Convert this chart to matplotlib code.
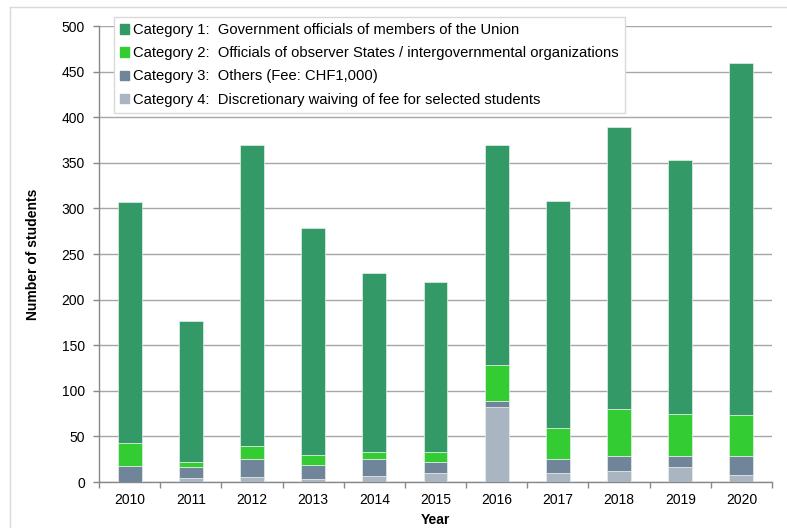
import numpy as np
import matplotlib.pyplot as plt
from matplotlib.lines import Line2D

plt.rcParams['font.family'] = ['Liberation Sans', 'DejaVu Sans']

years = ['2010', '2011', '2012', '2013', '2014', '2015', '2016', '2017', '2018', '2019', '2020']
cat1 = [264, 154, 331, 248, 196, 186, 241, 249, 309, 278, 386]
cat2 = [25, 6, 14, 11, 8, 11, 39, 34, 51, 46, 44]
cat3 = [18, 12, 19, 16, 18, 12, 7, 15, 17, 13, 21]
cat4 = [0, 4, 6, 3, 7, 10, 82, 10, 12, 16, 8]

labels = ['Category 1:  Government officials of members of the Union',
          'Category 2:  Officials of observer States / intergovernmental organizations',
          'Category 3:  Others (Fee: CHF1,000)',
          'Category 4:  Discretionary waiving of fee for selected students']
colors = ['#339966', '#33cc33', '#708599', '#a9b6c2']

fig = plt.figure(figsize=(7.87, 5.28), dpi=100)
ax = fig.add_axes([99 / 787, 1 - 482 / 528, 673 / 787, 456 / 528])

# light border of the chart area
fig.add_artist(Line2D([10 / 787, 10 / 787], [0, 1 - 7 / 528], color='#d9d9d9', lw=1))
fig.add_artist(Line2D([10 / 787, 1], [1 - 7 / 528, 1 - 7 / 528], color='#d9d9d9', lw=1))

x = np.arange(len(years))
bottom = np.zeros(len(years))
# stack from the bottom (cat4) up to cat1
series = [cat4, cat3, cat2, cat1]
cols = colors[::-1]
for vals, c in zip(series, cols):
    ax.bar(x, vals, width=0.39, bottom=bottom, color=c, edgecolor='#e6efe9', linewidth=0.5, zorder=3)
    bottom += np.array(vals)

ax.set_xlim(-0.5, len(years) - 0.5)
ax.set_ylim(0, 500)
ax.set_yticks(np.arange(0, 501, 50))
ax.set_xticks(x)
ax.set_xticklabels(years)
ax.set_xticks(np.arange(-0.5, len(years)), minor=True)
ax.tick_params(axis='x', which='major', length=0, labelsize=10, pad=8)
ax.tick_params(axis='x', which='minor', length=4, color='#888888', width=1)
ax.tick_params(axis='y', length=4, color='#888888', width=1, labelsize=10, pad=6)

ax.yaxis.grid(True, color='#a6a6a6', linewidth=1, zorder=0)
ax.set_axisbelow(True)
for s in ['top', 'right']:
    ax.spines[s].set_visible(False)
for s in ['left', 'bottom']:
    ax.spines[s].set_color('#888888')
    ax.spines[s].set_linewidth(1)

ax.set_ylabel('Number of students', fontsize=10, fontweight='bold', labelpad=16)
ax.set_xlabel('Year', fontsize=10, fontweight='bold', labelpad=4)

handles = [plt.Rectangle((0, 0), 1, 1, color=c) for c in colors]
leg = ax.legend(handles, labels, loc='upper left', bbox_to_anchor=(0.0223, 1.0197),
                fontsize=10.6, handlelength=0.6, handleheight=0.6, handletextpad=0.3,
                labelspacing=0.62, borderpad=0.42, borderaxespad=0, fancybox=False,
                framealpha=1, edgecolor='#d9d9d9')
leg.get_frame().set_linewidth(1)
leg.set_zorder(5)

fig.savefig('out.png', dpi=100)
